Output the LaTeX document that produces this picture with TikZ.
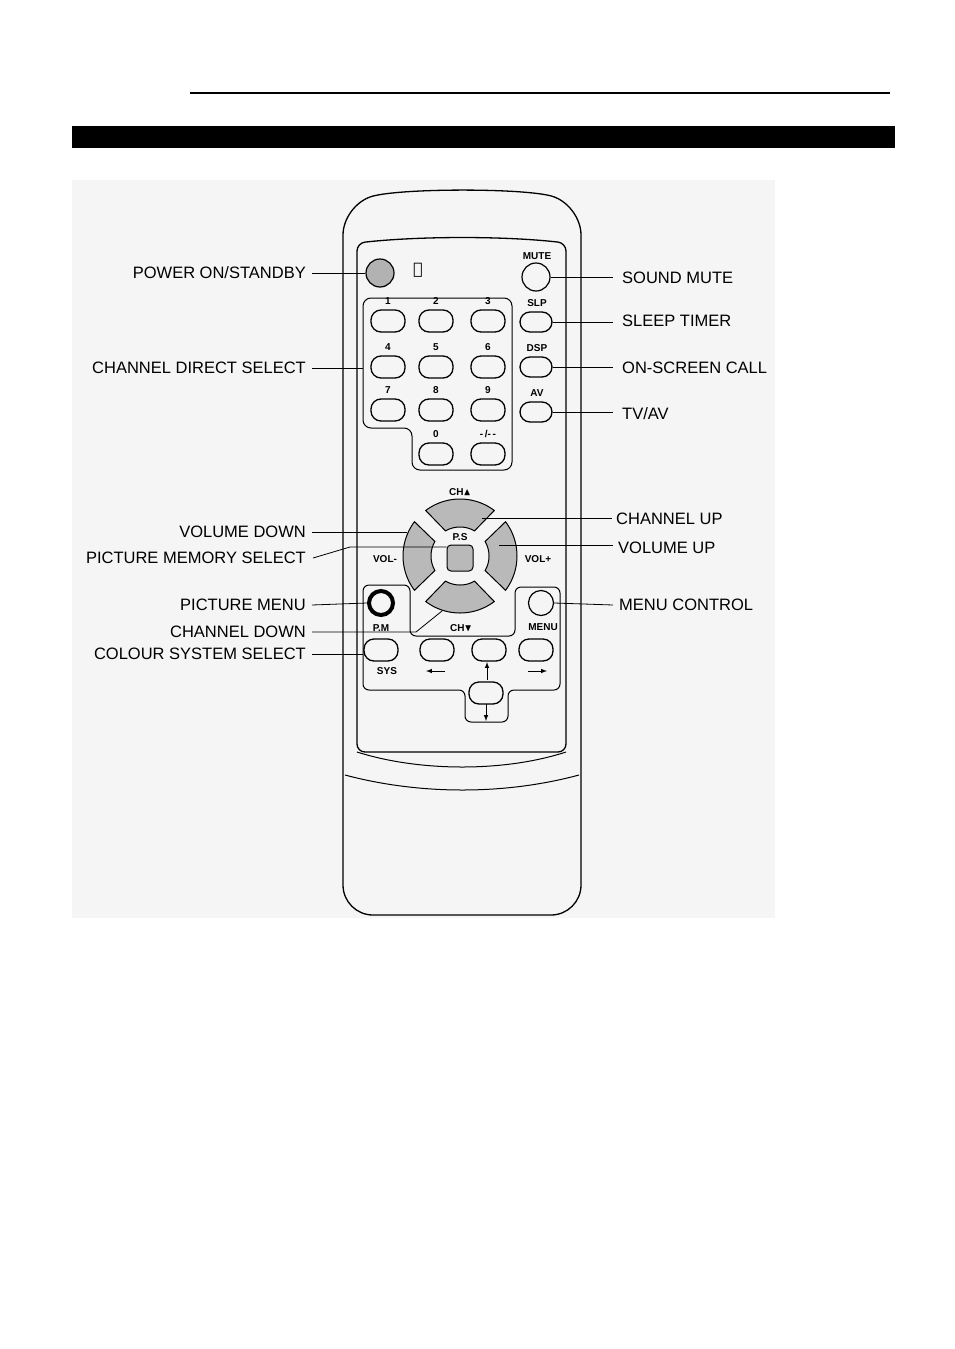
\documentclass[tikz,border=0pt]{standalone}
\usepackage{amssymb}
\usepackage{fontspec}
\setmainfont{Liberation Sans}
\usetikzlibrary{positioning}

\tikzset{
  lbl/.style={font=\fontsize{16.5}{18}\selectfont, inner sep=0pt},
  keylbl/.style={font=\fontsize{10}{11}\selectfont\bfseries, inner sep=0pt},
  key/.style={draw, line width=1.3pt, rounded corners=10pt, minimum width=34pt, minimum height=22pt, inner sep=0pt},
  lead/.style={line width=0.8pt},
  padgray/.style={fill=gray!55, draw=black, line width=1pt}
}

\begin{document}
\begin{tikzpicture}[x=1pt,y=-1pt]
    \useasboundingbox (0,0) rectangle (954,1349);

    % header
    \draw[line width=1.5pt] (190,93) -- (890,93);
    \fill (72,126) rectangle (895,148);
    \fill[gray!8] (72,180) rectangle (775,918);

    % remote body
    \draw[line width=1.3pt, rounded corners=30pt] (343,915) -- (343,205) .. controls (400,188) and (525,188) .. (581,205) -- (581,915) -- cycle;
    \draw[line width=1.3pt, rounded corners=8pt] (357,752) -- (357,243) .. controls (420,236) and (505,236) .. (566,243) -- (566,752) -- cycle;
    \draw[line width=1pt] (357,752) .. controls (420,772) and (505,772) .. (566,752);
    \draw[line width=1pt] (345,775) .. controls (420,795) and (505,795) .. (579,775);

    % key blocks
    \draw[line width=1pt, rounded corners=8pt] (363,298) -- (512,298) -- (512,470) -- (412,470) -- (412,428) -- (363,428) -- cycle;
    \draw[line width=1pt, rounded corners=6pt] (363,585) -- (410,585) -- (410,636) -- (515,636) -- (515,587) -- (560,587) -- (560,690) -- (508,690) -- (508,722) -- (465,722) -- (465,690) -- (363,690) -- cycle;

    % power and mute
    \node[circle, draw, line width=1.2pt, fill=gray!60, minimum size=28pt] (pwr) at (380,273) {};
    \node[keylbl, font=\fontsize{16}{16}\selectfont] (pwrsym) at (418,270) {\fontspec{DejaVu Sans}⏻};
    \node[circle, draw, line width=1.2pt, minimum size=28pt] (mute) at (536,277) {};
    \node[keylbl] at (537,256) {MUTE};

    % number keys
    \foreach \k/\x/\y in {1/388/321, 2/436/321, 3/488/321, 4/388/367, 5/436/367, 6/488/367, 7/388/410, 8/436/410, 9/488/410, 0/436/454} {
        \node[key] (n\k) at (\x,\y) {};
        \node[keylbl] at (\x,\y-20) {\k};
    }
    \node[key] (ndash) at (488,454) {};
    \node[keylbl] at (488,434) {-\,/-\,-};

    % side keys
    \foreach \n/\t/\y in {slp/SLP/322, dsp/DSP/367, av/AV/412} {
        \node[key, minimum width=32pt, minimum height=20pt] (\n) at (536,\y) {};
        \node[keylbl] at (537,\y-19) {\t};
    }

    % direction pad
    \coordinate (dp) at (460,556);
    \begin{scope}[shift={(dp)}]
        \foreach \a in {0,90,180,270} {
            \draw[padgray] plot[domain=\a-37:\a+37, samples=25] ({57*cos(\x)},{57*sin(\x)})
                -- plot[domain=\a+30:\a-30, samples=25] ({29*cos(\x)},{29*sin(\x)}) -- cycle;
        }
    \end{scope}
    \node[draw, line width=1pt, fill=gray!55, rounded corners=4pt, minimum size=26pt] (ps) at (460,558) {};
    \node[keylbl] at (460,537) {P.S};
    \node[keylbl] at (385,559) {VOL-};
    \node[keylbl] at (538,559) {VOL+};
    \node[keylbl] at (460,492) {CH$\blacktriangle$};
    \node[keylbl] at (461,628) {CH$\blacktriangledown$};

    % menu keys
    \node[circle, draw, line width=4pt, minimum size=24pt] (pm) at (381,603) {};
    \node[keylbl] at (381,628) {P.M};
    \node[circle, draw, line width=1.2pt, minimum size=25pt] (menu) at (541,603) {};
    \node[keylbl] at (543,627) {MENU};

    % bottom keys
    \foreach \n/\x in {sys/381, left/437, up/489, right/536} {
        \node[key] (\n) at (\x,650) {};
    }
    \node[key] (down) at (486,693) {};
    \node[keylbl] at (387,671) {SYS};
    \draw[-latex, line width=1pt] (445,671) -- (426,671);
    \draw[-latex, line width=1pt] (487,680) -- (487,662);
    \draw[-latex, line width=1pt] (528,671) -- (547,671);
    \draw[-latex, line width=1pt] (486,704) -- (486,721);

    % left labels
    \node[lbl, anchor=east] (tpwr) at (306,273) {POWER ON/STANDBY};
    \node[lbl, anchor=east] (tdir) at (306,368) {CHANNEL DIRECT SELECT};
    \node[lbl, anchor=east] (tvold) at (306,532) {VOLUME DOWN};
    \node[lbl, anchor=east] (tpms) at (306,558) {PICTURE MEMORY SELECT};
    \node[lbl, anchor=east] (tpm) at (306,605) {PICTURE MENU};
    \node[lbl, anchor=east] (tchd) at (306,632) {CHANNEL DOWN};
    \node[lbl, anchor=east] (tsys) at (306,654) {COLOUR SYSTEM SELECT};

    % right labels
    \node[lbl, anchor=west] (tmute) at (622,278) {SOUND MUTE};
    \node[lbl, anchor=west] (tslp) at (622,321) {SLEEP TIMER};
    \node[lbl, anchor=west] (tdsp) at (622,368) {ON-SCREEN CALL};
    \node[lbl, anchor=west] (tav) at (622,414) {TV/AV};
    \node[lbl, anchor=west] (tchu) at (616,519) {CHANNEL UP};
    \node[lbl, anchor=west] (tvolu) at (618,548) {VOLUME UP};
    \node[lbl, anchor=west] (tmenu) at (619,605) {MENU CONTROL};

    % leaders
    \coordinate (dirend) at (363,368);
    \coordinate (voldend) at (407,532);
    \coordinate (pmsbend) at (350,547);
    \coordinate (chdbend) at (416,632);
    \coordinate (chdend) at (442,611);
    \coordinate (sysend) at (363,654);
    \coordinate (chuend) at (482,518);
    \coordinate (voluend) at (499,545);
    \draw[lead] (tpwr.east) ++(6,0) -- (pwr.west);
    \draw[lead] (tdir.east) ++(6,0) -- (dirend);
    \draw[lead] (tvold.east) ++(6,0) -- (voldend);
    \draw[lead] (tpms.east) ++(7,0) -- (pmsbend) -- (ps.west |- pmsbend);
    \draw[lead] (tpm.east) ++(6,0) -- (pm.west);
    \draw[lead] (tchd.east) ++(6,0) -- (chdbend) -- (chdend);
    \draw[lead] (tsys.east) ++(6,0) -- (sysend);
    \draw[lead] (mute.east) -- ++(62,0);
    \draw[lead] (slp.east) -- ++(60,0);
    \draw[lead] (dsp.east) -- ++(60,0);
    \draw[lead] (av.east) -- ++(60,0);
    \draw[lead] (chuend) -- ([xshift=-4pt]tchu.west |- chuend);
    \draw[lead] (voluend) -- ([xshift=-5pt]tvolu.west |- voluend);
    \draw[lead] (menu.east) -- ([xshift=-6pt]tmenu.west);
\end{tikzpicture}
\end{document}
